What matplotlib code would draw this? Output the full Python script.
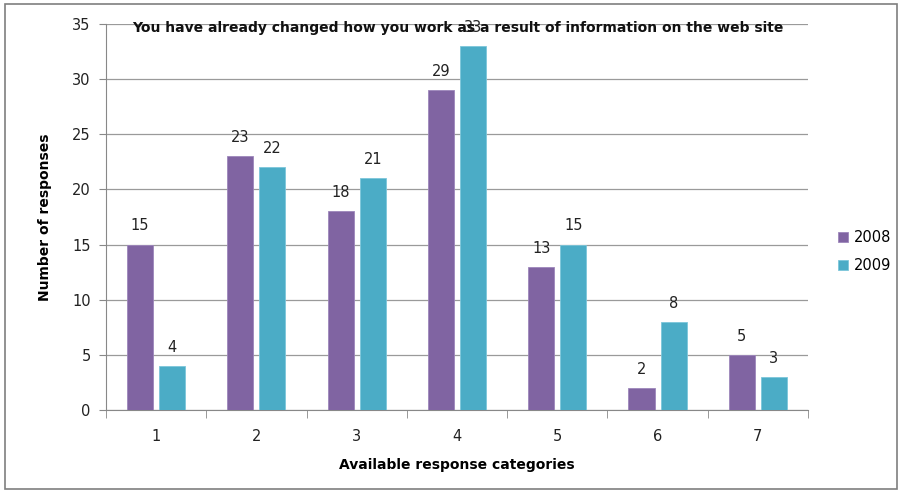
import numpy as np
import matplotlib
matplotlib.use("Agg")
import matplotlib.pyplot as plt
from matplotlib.patches import Rectangle

categories = ["1", "2", "3", "4", "5", "6", "7"]
values_2008 = [15, 23, 18, 29, 13, 2, 5]
values_2009 = [4, 22, 21, 33, 15, 8, 3]
years = ["2008", "2009"]

purple = "#8064A2"
teal = "#4BACC6"

plt.rcParams['font.family'] = ['DejaVu Sans']

fig = plt.figure(figsize=(9.01, 4.92), dpi=100)
ax = fig.add_axes([0.1176, 0.1667, 0.7792, 0.7845])

x = np.arange(len(categories))
w = 0.26
b1 = ax.bar(x - 0.16, values_2008, w, color=purple, edgecolor="#9d86bb", linewidth=0.6, label=years[0], zorder=3)
b2 = ax.bar(x + 0.16, values_2009, w, color=teal, edgecolor="#7cc6da", linewidth=0.6, label=years[1], zorder=3)

# value labels above each bar
for bars in (b1, b2):
    for r in bars:
        ax.annotate(str(int(r.get_height())), (r.get_x() + r.get_width() / 2, r.get_height()),
                    xytext=(0, 8), textcoords="offset points", ha="center", va="bottom",
                    fontsize=10.5, color="#222222", zorder=4)

ax.set_xlim(-0.5, len(categories) - 0.5)
ax.set_ylim(0, 35)
ax.set_yticks(range(0, 36, 5))
ax.set_xticks(x)
ax.set_xticklabels(categories)
ax.set_xticks(np.arange(-0.5, len(categories), 1), minor=True)
ax.tick_params(axis="x", which="major", length=0, pad=14, labelsize=10.5, colors="#222222")
ax.tick_params(axis="x", which="minor", length=6, color="#888888", direction="out")
ax.tick_params(axis="y", length=5, color="#888888", labelsize=10.5, labelcolor="#222222", pad=6)
ax.yaxis.grid(True, color="#9a9a9a", linewidth=0.9, zorder=0)
ax.set_axisbelow(True)
for s in ["top", "right"]:
    ax.spines[s].set_visible(False)
for s in ["left", "bottom"]:
    ax.spines[s].set_color("#888888")

ax.set_ylabel("Number of responses", fontsize=10, fontweight="bold", labelpad=14)
ax.set_xlabel("Available response categories", fontsize=10, fontweight="bold", labelpad=10)

fig.text(0.508, 0.943, "You have already changed how you work as a result of information on the web site",
         ha="center", va="center", fontsize=10, fontweight="bold", color="#111111")

ax.legend(loc="center left", bbox_to_anchor=(1.043, 0.41), frameon=False, fontsize=10.5,
          borderaxespad=0, borderpad=0,
          handlelength=0.7, handleheight=0.7, labelspacing=0.9, handletextpad=0.35)

fig.patches.append(Rectangle((0.006, 0.006), 0.99, 0.985, transform=fig.transFigure,
                             fill=False, edgecolor="#7f7f7f", linewidth=1.2))

fig.savefig("out.png", dpi=100)
